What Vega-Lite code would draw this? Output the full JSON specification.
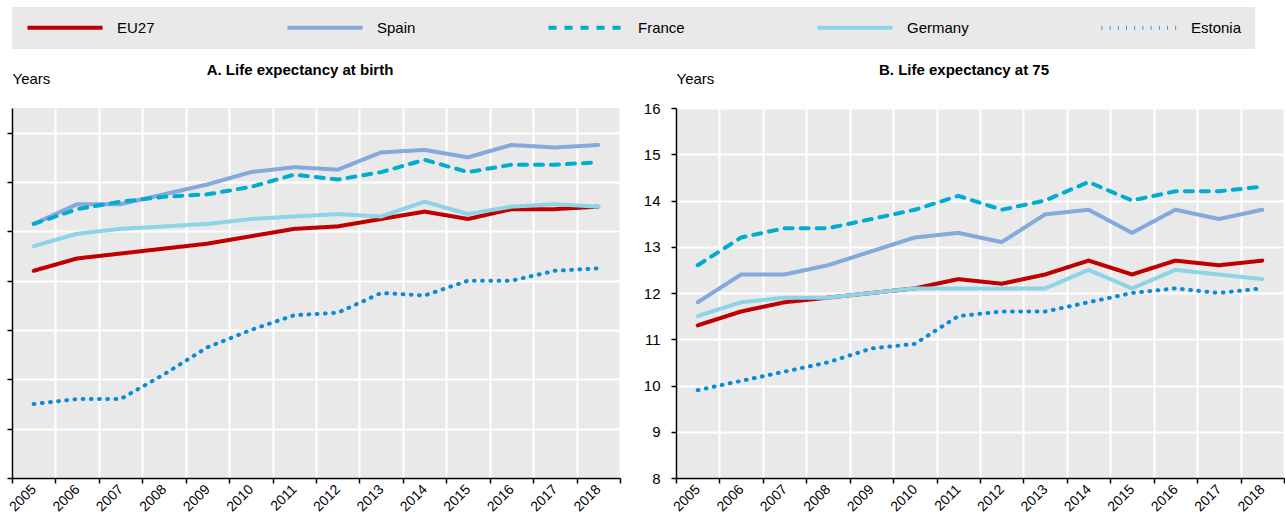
{
  "$schema": "https://vega.github.io/schema/vega-lite/v6.json",
  "padding": {"left": 6, "top": 7, "right": 0, "bottom": 0},
  "background": "white",
  "datasets": {
    "birth": [
      {"country": "EU27", "year": "2005", "value": 78.4}, {"country": "EU27", "year": "2006", "value": 78.9}, {"country": "EU27", "year": "2007", "value": 79.1}, {"country": "EU27", "year": "2008", "value": 79.3}, {"country": "EU27", "year": "2009", "value": 79.5}, {"country": "EU27", "year": "2010", "value": 79.8}, {"country": "EU27", "year": "2011", "value": 80.1}, {"country": "EU27", "year": "2012", "value": 80.2}, {"country": "EU27", "year": "2013", "value": 80.5}, {"country": "EU27", "year": "2014", "value": 80.8}, {"country": "EU27", "year": "2015", "value": 80.5}, {"country": "EU27", "year": "2016", "value": 80.9}, {"country": "EU27", "year": "2017", "value": 80.9}, {"country": "EU27", "year": "2018", "value": 81.0},
      {"country": "Spain", "year": "2005", "value": 80.3}, {"country": "Spain", "year": "2006", "value": 81.1}, {"country": "Spain", "year": "2007", "value": 81.1}, {"country": "Spain", "year": "2008", "value": 81.5}, {"country": "Spain", "year": "2009", "value": 81.9}, {"country": "Spain", "year": "2010", "value": 82.4}, {"country": "Spain", "year": "2011", "value": 82.6}, {"country": "Spain", "year": "2012", "value": 82.5}, {"country": "Spain", "year": "2013", "value": 83.2}, {"country": "Spain", "year": "2014", "value": 83.3}, {"country": "Spain", "year": "2015", "value": 83.0}, {"country": "Spain", "year": "2016", "value": 83.5}, {"country": "Spain", "year": "2017", "value": 83.4}, {"country": "Spain", "year": "2018", "value": 83.5},
      {"country": "France", "year": "2005", "value": 80.3}, {"country": "France", "year": "2006", "value": 80.9}, {"country": "France", "year": "2007", "value": 81.2}, {"country": "France", "year": "2008", "value": 81.4}, {"country": "France", "year": "2009", "value": 81.5}, {"country": "France", "year": "2010", "value": 81.8}, {"country": "France", "year": "2011", "value": 82.3}, {"country": "France", "year": "2012", "value": 82.1}, {"country": "France", "year": "2013", "value": 82.4}, {"country": "France", "year": "2014", "value": 82.9}, {"country": "France", "year": "2015", "value": 82.4}, {"country": "France", "year": "2016", "value": 82.7}, {"country": "France", "year": "2017", "value": 82.7}, {"country": "France", "year": "2018", "value": 82.8},
      {"country": "Germany", "year": "2005", "value": 79.4}, {"country": "Germany", "year": "2006", "value": 79.9}, {"country": "Germany", "year": "2007", "value": 80.1}, {"country": "Germany", "year": "2008", "value": 80.2}, {"country": "Germany", "year": "2009", "value": 80.3}, {"country": "Germany", "year": "2010", "value": 80.5}, {"country": "Germany", "year": "2011", "value": 80.6}, {"country": "Germany", "year": "2012", "value": 80.7}, {"country": "Germany", "year": "2013", "value": 80.6}, {"country": "Germany", "year": "2014", "value": 81.2}, {"country": "Germany", "year": "2015", "value": 80.7}, {"country": "Germany", "year": "2016", "value": 81.0}, {"country": "Germany", "year": "2017", "value": 81.1}, {"country": "Germany", "year": "2018", "value": 81.0},
      {"country": "Estonia", "year": "2005", "value": 73.0}, {"country": "Estonia", "year": "2006", "value": 73.2}, {"country": "Estonia", "year": "2007", "value": 73.2}, {"country": "Estonia", "year": "2008", "value": 74.2}, {"country": "Estonia", "year": "2009", "value": 75.3}, {"country": "Estonia", "year": "2010", "value": 76.0}, {"country": "Estonia", "year": "2011", "value": 76.6}, {"country": "Estonia", "year": "2012", "value": 76.7}, {"country": "Estonia", "year": "2013", "value": 77.5}, {"country": "Estonia", "year": "2014", "value": 77.4}, {"country": "Estonia", "year": "2015", "value": 78.0}, {"country": "Estonia", "year": "2016", "value": 78.0}, {"country": "Estonia", "year": "2017", "value": 78.4}, {"country": "Estonia", "year": "2018", "value": 78.5}
    ],
    "at75": [
      {"country": "EU27", "year": "2005", "value": 11.3}, {"country": "EU27", "year": "2006", "value": 11.6}, {"country": "EU27", "year": "2007", "value": 11.8}, {"country": "EU27", "year": "2008", "value": 11.9}, {"country": "EU27", "year": "2009", "value": 12.0}, {"country": "EU27", "year": "2010", "value": 12.1}, {"country": "EU27", "year": "2011", "value": 12.3}, {"country": "EU27", "year": "2012", "value": 12.2}, {"country": "EU27", "year": "2013", "value": 12.4}, {"country": "EU27", "year": "2014", "value": 12.7}, {"country": "EU27", "year": "2015", "value": 12.4}, {"country": "EU27", "year": "2016", "value": 12.7}, {"country": "EU27", "year": "2017", "value": 12.6}, {"country": "EU27", "year": "2018", "value": 12.7},
      {"country": "Spain", "year": "2005", "value": 11.8}, {"country": "Spain", "year": "2006", "value": 12.4}, {"country": "Spain", "year": "2007", "value": 12.4}, {"country": "Spain", "year": "2008", "value": 12.6}, {"country": "Spain", "year": "2009", "value": 12.9}, {"country": "Spain", "year": "2010", "value": 13.2}, {"country": "Spain", "year": "2011", "value": 13.3}, {"country": "Spain", "year": "2012", "value": 13.1}, {"country": "Spain", "year": "2013", "value": 13.7}, {"country": "Spain", "year": "2014", "value": 13.8}, {"country": "Spain", "year": "2015", "value": 13.3}, {"country": "Spain", "year": "2016", "value": 13.8}, {"country": "Spain", "year": "2017", "value": 13.6}, {"country": "Spain", "year": "2018", "value": 13.8},
      {"country": "France", "year": "2005", "value": 12.6}, {"country": "France", "year": "2006", "value": 13.2}, {"country": "France", "year": "2007", "value": 13.4}, {"country": "France", "year": "2008", "value": 13.4}, {"country": "France", "year": "2009", "value": 13.6}, {"country": "France", "year": "2010", "value": 13.8}, {"country": "France", "year": "2011", "value": 14.1}, {"country": "France", "year": "2012", "value": 13.8}, {"country": "France", "year": "2013", "value": 14.0}, {"country": "France", "year": "2014", "value": 14.4}, {"country": "France", "year": "2015", "value": 14.0}, {"country": "France", "year": "2016", "value": 14.2}, {"country": "France", "year": "2017", "value": 14.2}, {"country": "France", "year": "2018", "value": 14.3},
      {"country": "Germany", "year": "2005", "value": 11.5}, {"country": "Germany", "year": "2006", "value": 11.8}, {"country": "Germany", "year": "2007", "value": 11.9}, {"country": "Germany", "year": "2008", "value": 11.9}, {"country": "Germany", "year": "2009", "value": 12.0}, {"country": "Germany", "year": "2010", "value": 12.1}, {"country": "Germany", "year": "2011", "value": 12.1}, {"country": "Germany", "year": "2012", "value": 12.1}, {"country": "Germany", "year": "2013", "value": 12.1}, {"country": "Germany", "year": "2014", "value": 12.5}, {"country": "Germany", "year": "2015", "value": 12.1}, {"country": "Germany", "year": "2016", "value": 12.5}, {"country": "Germany", "year": "2017", "value": 12.4}, {"country": "Germany", "year": "2018", "value": 12.3},
      {"country": "Estonia", "year": "2005", "value": 9.9}, {"country": "Estonia", "year": "2006", "value": 10.1}, {"country": "Estonia", "year": "2007", "value": 10.3}, {"country": "Estonia", "year": "2008", "value": 10.5}, {"country": "Estonia", "year": "2009", "value": 10.8}, {"country": "Estonia", "year": "2010", "value": 10.9}, {"country": "Estonia", "year": "2011", "value": 11.5}, {"country": "Estonia", "year": "2012", "value": 11.6}, {"country": "Estonia", "year": "2013", "value": 11.6}, {"country": "Estonia", "year": "2014", "value": 11.8}, {"country": "Estonia", "year": "2015", "value": 12.0}, {"country": "Estonia", "year": "2016", "value": 12.1}, {"country": "Estonia", "year": "2017", "value": 12.0}, {"country": "Estonia", "year": "2018", "value": 12.1}
    ]
  },
  "spacing": 22,
  "hconcat": [
    {
      "width": 608,
      "height": 370,
      "title": {"text": "A. Life expectancy at birth", "anchor": "middle", "dy": 10, "dx": -16},
      "data": {"name": "birth"},
      "mark": {"type": "line", "strokeWidth": 4, "strokeCap": "round", "strokeJoin": "round"},
      "encoding": {
        "x": {"field": "year", "type": "ordinal", "bandPosition": 0.5,
              "scale": {"type": "band", "paddingInner": 0, "paddingOuter": 0},
              "axis": {"title": null, "tickBand": "extent", "labelAngle": -45, "labelAlign": "right", "labelBaseline": "middle",
                       "labelFontSize": 14, "grid": true, "labelPadding": 4}},
        "y": {"field": "value", "type": "quantitative",
              "scale": {"domain": [70, 85], "nice": false, "zero": false},
              "axis": {"values": [70, 72, 74, 76, 78, 80, 82, 84], "labels": false, "title": "Years",
                       "titleAngle": 0, "titleAlign": "left", "titleBaseline": "alphabetic", "titleX": 0, "titleY": -24.5}},
        "color": {"field": "country", "type": "nominal", "title": null,
                  "scale": {"domain": ["EU27", "Spain", "France", "Germany", "Estonia"],
                            "range": ["#c00000", "#84a9dc", "#00acd0", "#8dd4e6", "#0a8ad8"]}},
        "strokeDash": {"field": "country", "type": "nominal", "title": null,
                       "scale": {"domain": ["EU27", "Spain", "France", "Germany", "Estonia"],
                                 "range": [[1, 0], [1, 0], [8, 8], [1, 0], [0.8, 7.4]]}}
      }
    },
    {
      "width": 608,
      "height": 370,
      "title": {"text": "B. Life expectancy at 75", "anchor": "middle", "dy": 10, "dx": -16},
      "data": {"name": "at75"},
      "mark": {"type": "line", "strokeWidth": 4, "strokeCap": "round", "strokeJoin": "round"},
      "encoding": {
        "x": {"field": "year", "type": "ordinal", "bandPosition": 0.5,
              "scale": {"type": "band", "paddingInner": 0, "paddingOuter": 0},
              "axis": {"title": null, "tickBand": "extent", "labelAngle": -45, "labelAlign": "right", "labelBaseline": "middle",
                       "labelFontSize": 14, "grid": true, "labelPadding": 4}},
        "y": {"field": "value", "type": "quantitative",
              "scale": {"domain": [8, 16], "nice": false, "zero": false},
              "axis": {"values": [8, 9, 10, 11, 12, 13, 14, 15, 16], "title": "Years", "labelPadding": 11,
                       "titleAngle": 0, "titleAlign": "left", "titleBaseline": "alphabetic", "titleX": 0, "titleY": -24.5}},
        "color": {"field": "country", "type": "nominal", "title": null,
                  "scale": {"domain": ["EU27", "Spain", "France", "Germany", "Estonia"],
                            "range": ["#c00000", "#84a9dc", "#00acd0", "#8dd4e6", "#0a8ad8"]}},
        "strokeDash": {"field": "country", "type": "nominal", "title": null,
                       "scale": {"domain": ["EU27", "Spain", "France", "Germany", "Estonia"],
                                 "range": [[1, 0], [1, 0], [8, 8], [1, 0], [0.8, 7.4]]}}
      }
    }
  ],
  "resolve": {"scale": {"color": "shared", "strokeDash": "shared", "y": "independent"}},
  "config": {
    "font": "Liberation Sans, Arial, sans-serif",
    "view": {"fill": "#e9e9e9", "stroke": null},
    "title": {"fontSize": 15, "fontWeight": "bold", "color": "#000000", "offset": 0},
    "axis": {
      "domainColor": "#000000", "domainWidth": 1.5, "tickColor": "#000000", "tickWidth": 1.5, "tickSize": 5,
      "gridColor": "#ffffff", "gridWidth": 2, "labelFontSize": 15, "labelColor": "#000000",
      "titleFontSize": 15, "titleFontWeight": "normal", "titleColor": "#000000"
    },
    "legend": {
      "orient": "top", "direction": "horizontal", "columns": 5, "fillColor": "#e9e9e9", "padding": 13,
      "symbolType": "M-1,0H14", "symbolSize": 100, "symbolStrokeWidth": 4, "labelFontSize": 15, "labelColor": "#000000",
      "labelOffset": 77, "columnPadding": 124, "offset": 13.5, "labelLimit": 200
    }
  }
}
